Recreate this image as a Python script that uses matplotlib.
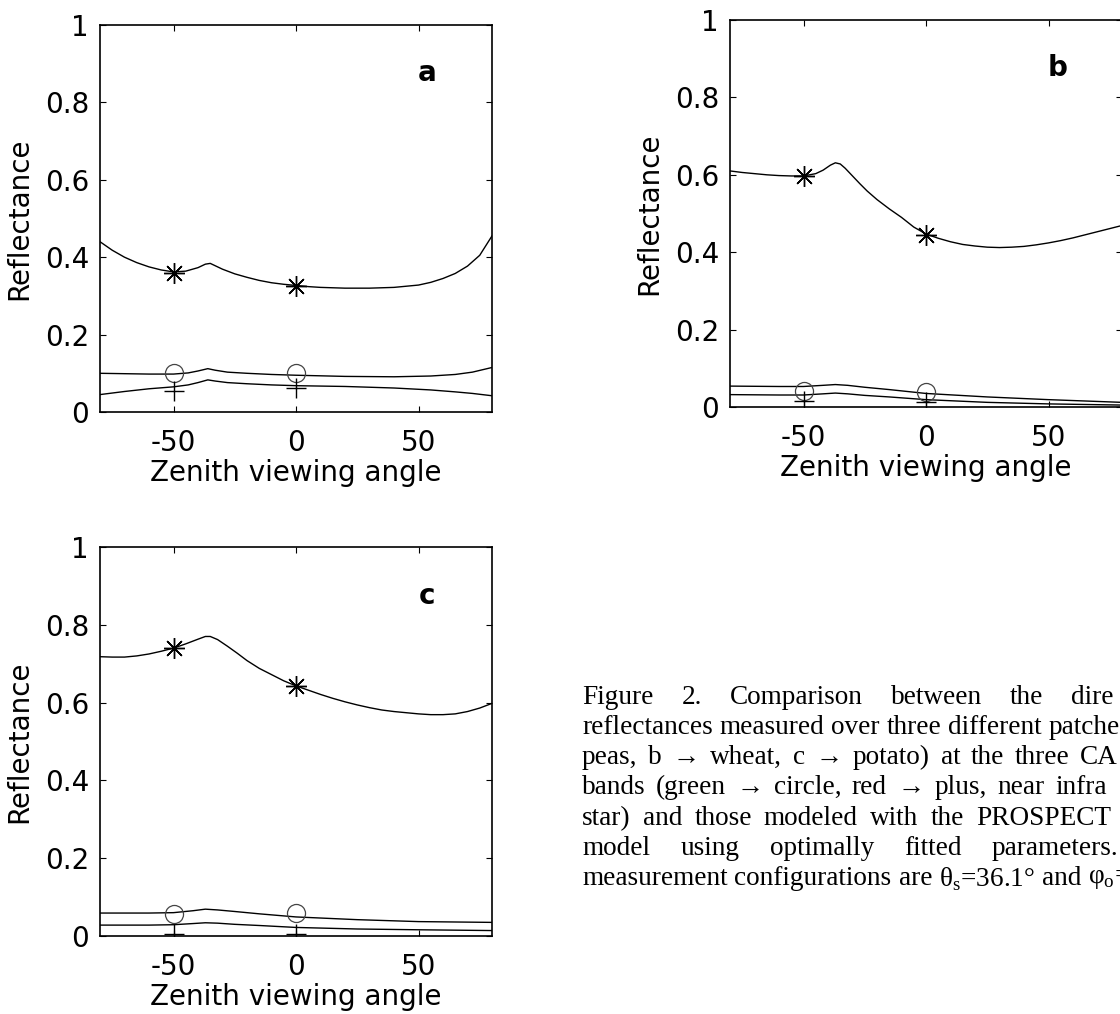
import matplotlib
matplotlib.use("Agg")
import matplotlib.pyplot as plt

# ---- data ---------------------------------------------------------------
# panel a (peas)
a_x = [-80, -75, -70, -65, -60, -55, -50, -45, -40, -37, -35, -33, -30, -25, -20, -15, -10, -5,
       0, 5, 10, 15, 20, 25, 30, 35, 40, 45, 50, 55, 60, 65, 70, 75, 80]
a_nir = [0.44, 0.418, 0.40, 0.386, 0.375, 0.367, 0.362, 0.364, 0.373, 0.382, 0.384, 0.378,
         0.369, 0.357, 0.348, 0.34, 0.334, 0.33, 0.327, 0.324, 0.322, 0.321, 0.32, 0.32,
         0.32, 0.321, 0.322, 0.325, 0.328, 0.335, 0.345, 0.358, 0.377, 0.405, 0.455]
a_low_x = [-80, -70, -60, -50, -44, -40, -36, -33, -28, -20, -10, 0, 20, 40, 55, 65, 72, 80]
a_grn = [0.10, 0.099, 0.098, 0.098, 0.101, 0.106, 0.112, 0.108, 0.103, 0.10, 0.097, 0.095,
         0.092, 0.091, 0.093, 0.097, 0.103, 0.115]
a_red = [0.045, 0.053, 0.06, 0.065, 0.07, 0.076, 0.083, 0.08, 0.076, 0.073, 0.07, 0.068,
         0.066, 0.062, 0.057, 0.052, 0.048, 0.042]

# panel b (wheat)
b_x = [-80, -75, -70, -65, -60, -55, -50, -45, -42, -39, -37, -35, -33, -30, -27, -24, -20,
       -15, -10, -5, 0, 5, 10, 15, 20, 25, 30, 35, 40, 45, 50, 55, 60, 65, 70, 75, 80]
b_nir = [0.61, 0.606, 0.603, 0.60, 0.598, 0.597, 0.597, 0.603, 0.612, 0.625, 0.631, 0.628,
         0.617, 0.597, 0.577, 0.558, 0.536, 0.512, 0.49, 0.465, 0.447, 0.436, 0.427, 0.42,
         0.416, 0.413, 0.412, 0.413, 0.415, 0.419, 0.424, 0.43, 0.437, 0.445, 0.453, 0.461, 0.469]
b_low_x = [-80, -60, -50, -42, -37, -32, -25, -15, 0, 25, 50, 80]
b_grn = [0.054, 0.053, 0.053, 0.056, 0.058, 0.056, 0.051, 0.045, 0.035, 0.026, 0.019, 0.012]
b_red = [0.032, 0.031, 0.031, 0.034, 0.036, 0.034, 0.03, 0.026, 0.019, 0.012, 0.008, 0.005]

# panel c (potato)
c_x = [-80, -75, -70, -65, -60, -55, -50, -45, -40, -37, -35, -32, -28, -24, -20, -15, -10, -5,
       0, 5, 10, 15, 20, 25, 30, 35, 40, 45, 50, 55, 60, 65, 70, 75, 80]
c_nir = [0.718, 0.717, 0.717, 0.72, 0.725, 0.732, 0.74, 0.751, 0.763, 0.77, 0.77, 0.762,
         0.745, 0.727, 0.708, 0.688, 0.672, 0.656, 0.643, 0.632, 0.621, 0.611, 0.602, 0.594,
         0.587, 0.581, 0.577, 0.574, 0.571, 0.569, 0.569, 0.571, 0.577, 0.586, 0.598]
c_low_x = [-80, -60, -50, -42, -37, -32, -25, -15, 0, 25, 50, 80]
c_grn = [0.059, 0.059, 0.06, 0.065, 0.069, 0.067, 0.063, 0.057, 0.049, 0.042, 0.037, 0.035]
c_red = [0.028, 0.028, 0.029, 0.032, 0.034, 0.033, 0.03, 0.027, 0.022, 0.018, 0.016, 0.014]

# measurements at -50 and 0 deg (circle = green, plus = red, star = NIR)
meas_x = [-50, 0]
a_meas = {"o": [0.10, 0.102], "+": [0.055, 0.062], "*": [0.36, 0.325]}
b_meas = {"o": [0.042, 0.04], "+": [0.015, 0.013], "*": [0.598, 0.445]}
c_meas = {"o": [0.057, 0.059], "+": [0.005, 0.005], "*": [0.741, 0.642]}

caption = [
    ["Figure", "2.", "Comparison", "between", "the", "dire"],
    ["reflectances", "measured", "over", "three", "different", "patche"],
    ["peas,", "b", "\u2192", "wheat,", "c", "\u2192", "potato)", "at", "the", "three", "CA"],
    ["bands", "(green", "\u2192", "circle,", "red", "\u2192", "plus,", "near", "infra"],
    ["star)", "and", "those", "modeled", "with", "the", "PROSPECT"],
    ["model", "using", "optimally", "fitted", "parameters."],
    ["measurement", "configurations", "are", "\u03b8$_{\\mathrm{s}}$=36.1\u00b0", "and",
     "\u03c6$_{\\mathrm{o}}$="],
]
# x pixel where the last visible word of each line starts (None = natural spacing)
cap_last = [1071, None, 1080, 1055, 976, 992, None]

plt.rcParams["font.family"] = ["DejaVu Sans"]
plt.rcParams["axes.unicode_minus"] = False
plt.rcParams["mathtext.fontset"] = "custom"
plt.rcParams["mathtext.rm"] = "Liberation Serif"

W, H = 1120, 1014
fig = plt.figure(figsize=(W / 100, H / 100), dpi=100)

def px_axes(left, top, right, bottom):
    return fig.add_axes([left / W, 1 - bottom / H, (right - left) / W, (bottom - top) / H])

FS = 20
marker_style = {
    "o": dict(marker="o", ms=13, mfc="none", mec="#444444", mew=0.9),
    "+": dict(marker="+", ms=14, mec="black", mew=1.0),
    "*": dict(marker=(8, 2, 0), ms=15, mec="black", mew=1.0),
}

def panel(ax, nx, nir, lx, grn, red, meas, letter):
    ax.plot(nx, nir, color="black", lw=1.0)
    ax.plot(lx, grn, color="black", lw=1.0)
    ax.plot(lx, red, color="black", lw=1.0)
    for m, ys in meas.items():
        ax.plot(meas_x, ys, ls="none", **marker_style[m])
    ax.set_xlim(-80, 80)
    ax.set_ylim(0, 1)
    ax.set_xticks([-50, 0, 50])
    ax.set_yticks([0, 0.2, 0.4, 0.6, 0.8, 1])
    ax.set_yticklabels(["0", "0.2", "0.4", "0.6", "0.8", "1"])
    ax.tick_params(direction="in", top=True, right=True, length=4, width=0.8,
                   labelsize=FS)
    ax.tick_params(axis="x", pad=12)
    ax.tick_params(axis="y", pad=8)
    for s in ax.spines.values():
        s.set_linewidth(1.2)
    ax.set_xlabel("Zenith viewing angle", fontsize=FS, labelpad=2)
    ax.set_ylabel("Reflectance", fontsize=FS, labelpad=8)
    ax.text(0.835, 0.875, letter, transform=ax.transAxes, fontsize=FS,
            fontweight="bold", ha="center", va="center")

ax_a = px_axes(100, 25, 492, 412)
panel(ax_a, a_x, a_nir, a_low_x, a_grn, a_red, a_meas, "a")
ax_b = px_axes(730, 20, 1122, 407)
panel(ax_b, b_x, b_nir, b_low_x, b_grn, b_red, b_meas, "b")
ax_c = px_axes(100, 547, 492, 936)
panel(ax_c, c_x, c_nir, c_low_x, c_grn, c_red, c_meas, "c")

# ---- caption (justified lines, cut by the page edge as in the source) -----
fig.canvas.draw()
r = fig.canvas.get_renderer()
cap_font = dict(family="Liberation Serif", fontsize=19.6)
x0, y0, dy = 582, 697, 30.3

def text_w(s):
    t = fig.text(0, 0, s, **cap_font)
    w = t.get_window_extent(r).width
    t.remove()
    return w

space = text_w("a a") - text_w("aa")
for i, (words, last) in enumerate(zip(caption, cap_last)):
    y = 1 - (y0 + i * dy) / H
    widths = [text_w(w) for w in words]
    if last is None:
        gap = space
    else:
        gap = (last - x0 - sum(widths[:-1])) / (len(words) - 1)
    x = x0
    for w, wd in zip(words, widths):
        fig.text(x / W, y, w, **cap_font, va="center", ha="left")
        x += wd + gap

fig.savefig("out.png", dpi=100)
